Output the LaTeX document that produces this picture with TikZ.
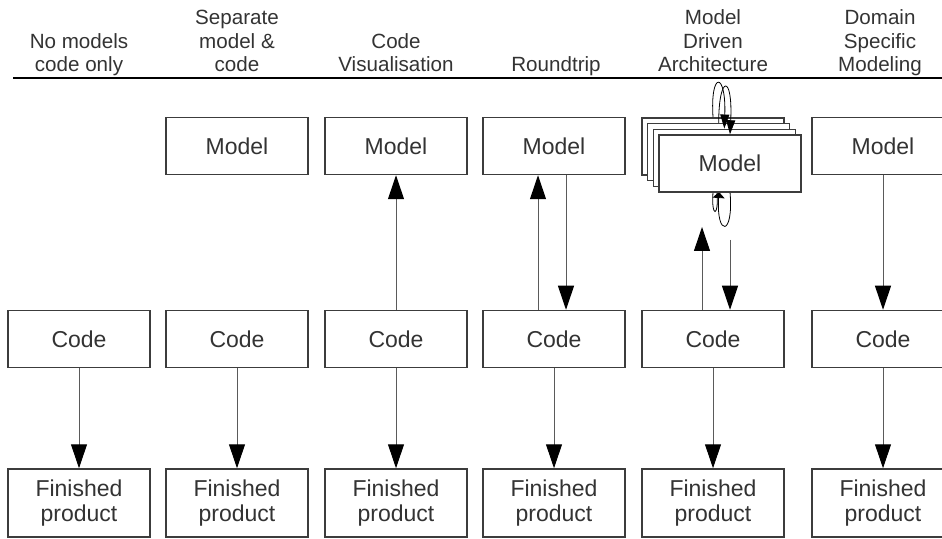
\documentclass[tikz,border=0pt]{standalone}
\usepackage{fontspec}
\setmainfont{Liberation Sans}
\usetikzlibrary{arrows.meta}

\definecolor{boxline}{HTML}{3C3C3C}
\definecolor{flowline}{HTML}{5A5A5A}
\definecolor{txtgray}{HTML}{333333}

\begin{document}
\begin{tikzpicture}[x=0.5pt,y=-0.5pt,
  box/.style={draw=boxline, line width=0.75pt, fill=white, text=txtgray,
    minimum width=71pt, minimum height=28.5pt, inner sep=0pt,
    font=\fontsize{11.5}{12.5}\selectfont},
  endbox/.style={box, minimum height=34pt, align=center},
  head/.style={align=center, anchor=base, inner sep=0pt, text=txtgray,
    font=\fontsize{10.3}{11.75}\selectfont},
  flow/.style={draw=flowline, line width=0.5pt,
    -{Triangle[color=black,length=12pt,width=8pt]}},
  trafo/.style={draw=black, line width=0.4pt,
    -{Triangle[color=black,length=7pt,width=4.5pt]}}]

\useasboundingbox (0,0) rectangle (942,539);
\clip (0,0) rectangle (942,539);

% column headings
\node[head] (h1) at (79,72) {No models\\code only};
\node[head] (h2) at (237,72) {Separate\\model \&\\code};
\node[head] (h3) at (396,72) {Code\\Visualisation};
\node[head] (h4) at (556,72) {Roundtrip};
\node[head] (h5) at (713,72) {Model\\Driven\\Architecture};
\node[head] (h6) at (880,72) {Domain\\Specific\\Modeling};
\draw[line width=0.75pt] (13,78) -- (942,78);

% models
\node[box] (model2) at (237,146) {Model};
\node[box] (model3) at (396,146) {Model};
\node[box] (model4) at (554,146) {Model};
\node[box] (model6) at (883,146) {Model};

% MDA stack of models
\draw[trafo, -{Triangle[color=black,length=3pt,width=6pt]}]
  (730,192) .. controls +(4,45) and +(-3,45) .. (719,192);
\draw[draw=black, line width=0.4pt]
  (713,192) .. controls +(-2,26) and +(2,26) .. (717,192);
\node[box] (m1) at (713,146.5) {};
\node[box] (m2) at (718.7,152.2) {};
\node[box] (m3) at (724.3,157.8) {};
\node[box] (m4) at (730,163.5) {Model};
\draw[trafo] (m1.north) .. controls +(-3,-47) and +(2,-57) .. (m3.north);
\draw[trafo] (m2.north) .. controls +(0,-49) and +(3,-60) .. (m4.north);

% code
\node[box] (code1) at (79,339) {Code};
\node[box] (code2) at (237,339) {Code};
\node[box] (code3) at (396,339) {Code};
\node[box] (code4) at (554,339) {Code};
\node[box] (code5) at (713,339) {Code};
\node[box] (code6) at (883,339) {Code};

% finished products
\node[endbox] (prod1) at (79,503) {Finished\\product};
\node[endbox] (prod2) at (237,503) {Finished\\product};
\node[endbox] (prod3) at (396,503) {Finished\\product};
\node[endbox] (prod4) at (554,503) {Finished\\product};
\node[endbox] (prod5) at (713,503) {Finished\\product};
\node[endbox] (prod6) at (883,503) {Finished\\product};

% connectors
\draw[flow] (code3.north) -- (model3.south);
\draw[flow] ([xshift=-8pt]code4.north) -- ([xshift=-8pt]model4.south);
\draw[flow] ([xshift=6pt]model4.south) -- ([xshift=6pt]code4.north);
\coordinate (mdaup) at (702,227);
\coordinate (mdadown) at (730,240);
\draw[flow] ([xshift=-5.5pt]code5.north) -- (mdaup);
\draw[flow] (mdadown) -- ([xshift=8.5pt]code5.north);
\draw[flow] (model6.south) -- (code6.north);

\draw[flow] (code1) -- (prod1);
\draw[flow] (code2) -- (prod2);
\draw[flow] (code3) -- (prod3);
\draw[flow] (code4) -- (prod4);
\draw[flow] (code5) -- (prod5);
\draw[flow] (code6) -- (prod6);
\end{tikzpicture}
\end{document}
